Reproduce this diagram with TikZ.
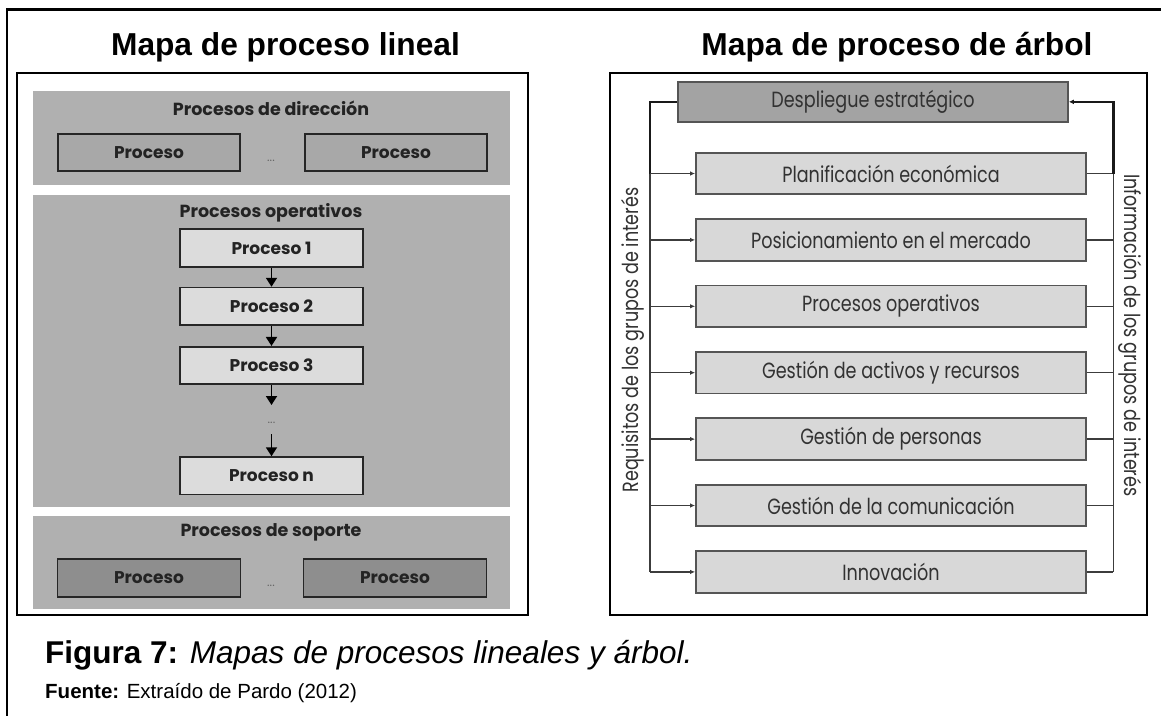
\documentclass[tikz,border=0pt]{standalone}
\usepackage{fontspec}
\setmainfont{Liberation Sans}
\newfontfamily\popL{Poppins}
\newfontfamily\popR{Poppins}[FakeStretch=0.8]
\usetikzlibrary{arrows.meta}

\definecolor{bandgray}{RGB}{176,176,176}
\definecolor{dirfill}{RGB}{168,168,168}
\definecolor{opfill}{RGB}{220,220,220}
\definecolor{supfill}{RGB}{142,142,142}
\definecolor{topfill}{RGB}{163,163,163}
\definecolor{boxfill}{RGB}{216,216,216}
\definecolor{boxline}{RGB}{85,85,85}
\definecolor{linkgray}{RGB}{60,60,60}
\definecolor{txtL}{RGB}{35,35,35}
\definecolor{txtR}{RGB}{50,50,50}

\tikzset{
  title/.style={font=\bfseries\fontsize{31.7}{36}\selectfont, inner sep=0},
  panel/.style={draw=black, line width=1.8pt},
  band/.style={fill=bandgray, draw=none, inner sep=0},
  bandtitle/.style={font=\popL\bfseries\fontsize{17.5}{20}\selectfont, text=txtL, inner sep=0},
  lbox/.style={draw=black!85, line width=1.6pt, inner sep=0, minimum height=37.5pt,
    font=\popL\bfseries\fontsize{17}{20}\selectfont, text=txtL},
  dirbox/.style={lbox, fill=dirfill, minimum width=182pt},
  opbox/.style={lbox, fill=opfill, minimum width=183pt},
  supbox/.style={lbox, fill=supfill, minimum width=183pt},
  ellip/.style={font=\popL\fontsize{12}{14}\selectfont, text=black!60, inner sep=0},
  darr/.style={-{Triangle[length=9pt,width=11pt]}, line width=1.8pt},
  rbox/.style={draw=boxline, line width=1.8pt, fill=boxfill, minimum width=390pt,
    minimum height=41.5pt, inner sep=0, font=\popR\fontsize{22}{26}\selectfont, text=txtR},
  rtop/.style={rbox, fill=topfill, minimum height=40.3pt},
  rlabel/.style={font=\popR\fontsize{22}{26}\selectfont, text=txtR, inner sep=0},
  link/.style={line width=1.4pt, draw=linkgray},
  rarr/.style={link, -{Latex[length=5pt,width=4.5pt]}},
  heavy/.style={line width=2.4pt, draw=black!90}
}

\begin{document}
\begin{tikzpicture}[x=1pt,y=-1pt]
\useasboundingbox (0,0) rectangle (1161,716);

% outer frame (top and left edges)
\draw[line width=2.5pt] (1161,9.5) -- (7,9.5) -- (7,716);

% titles
\node[title] (t1) at (285.5,47) {Mapa de proceso lineal};
\node[title] (t2) at (897,47) {Mapa de proceso de árbol};

% ---------------- linear map ----------------
\draw[panel] (16.7,72.7) rectangle (528,615);

\node[band, minimum width=477.5pt, minimum height=94.3pt] (b1) at (271.25,137.85) {};
\node[band, minimum width=477.5pt, minimum height=311.7pt] (b2) at (271.25,350.85) {};
\node[band, minimum width=477.5pt, minimum height=93.6pt] (b3) at (271.25,562.5) {};

\node[bandtitle] (bt1) at (271,108) {Procesos de dirección};
\node[bandtitle] (bt2) at (271,213) {Procesos operativos};
\node[bandtitle] (bt3) at (271,532) {Procesos de soporte};

\node[dirbox] (d1) at (149,152.5) {Proceso};
\node[dirbox] (d2) at (396,152.5) {Proceso};
\node[ellip] (dd) at (271,161) {...};

\node[opbox] (p1) at (271.5,248) {Proceso 1};
\node[opbox] (p2) at (271.5,306.3) {Proceso 2};
\node[opbox] (p3) at (271.5,365.5) {Proceso 3};
\node[ellip] (pd) at (271.5,423) {...};
\node[opbox] (pn) at (271.5,475.8) {Proceso n};
\coordinate (c1) at (271.5,405);
\coordinate (c2) at (271.5,434);

\draw[darr] (p1) -- (p2);
\draw[darr] (p2) -- (p3);
\draw[darr] (p3) -- (c1);
\draw[darr] (c2) -- (pn);

\node[supbox] (s1) at (149,578) {Proceso};
\node[supbox] (s2) at (395,578) {Proceso};
\node[ellip] (sd) at (271,586) {...};

% ---------------- tree map ----------------
\draw[panel, line width=2.2pt] (610,73) rectangle (1147,615);

\node[rtop] (r0) at (873,101.85) {Despliegue estratégico};
\node[rbox] (r1) at (891,173.5) {Planificación económica};
\node[rbox] (r2) at (891,239.9) {Posicionamiento en el mercado};
\node[rbox] (r3) at (891,306.3) {Procesos operativos};
\node[rbox] (r4) at (891,372.7) {Gestión de activos y recursos};
\node[rbox] (r5) at (891,439.1) {Gestión de personas};
\node[rbox] (r6) at (891,505.5) {Gestión de la comunicación};
\node[rbox] (r7) at (891,571.9) {Innovación};

\coordinate (lt) at (650,101.85);
\coordinate (lb) at (650,571.9);
\coordinate (rt) at (1113.3,101.85);
\coordinate (rb) at (1113.3,571.9);

% requirements flowing down on the left
\draw[heavy] (r0.west) -- (lt) -- (lt |- r1.west);
\draw[link] (lt |- r1.west) -- (lb);
\foreach \b in {r1,r2,r3,r4,r5,r6,r7}
  \draw[rarr] (lt |- \b.west) -- (\b.west);

% information flowing back on the right
\foreach \b in {r1,r2,r3,r4,r5,r6,r7}
  \draw[link] (\b.east) -- (rt |- \b.east);
\draw[link] (rb) -- (rt |- r1.east);
\draw[heavy, -{Latex[length=5pt,width=5pt]}] (rt |- r1.east) -- (rt) -- (r0.east);

\node[rlabel, rotate=90] (req) at (633,340) {Requisitos de los grupos de interés};
\node[rlabel, rotate=-90] (inf) at (1130,335.5) {Información de los grupos de interés};

% ---------------- caption ----------------
\node[anchor=base west, inner sep=0, font=\fontsize{31.5}{36}\selectfont] (cap) at (45,663)
  {\textbf{Figura 7:} \textit{Mapas de procesos lineales y árbol.}};
\node[anchor=base west, inner sep=0, font=\fontsize{20.5}{24}\selectfont] (src) at (45,698)
  {\textbf{Fuente:} Extraído de Pardo (2012)};
\end{tikzpicture}
\end{document}
